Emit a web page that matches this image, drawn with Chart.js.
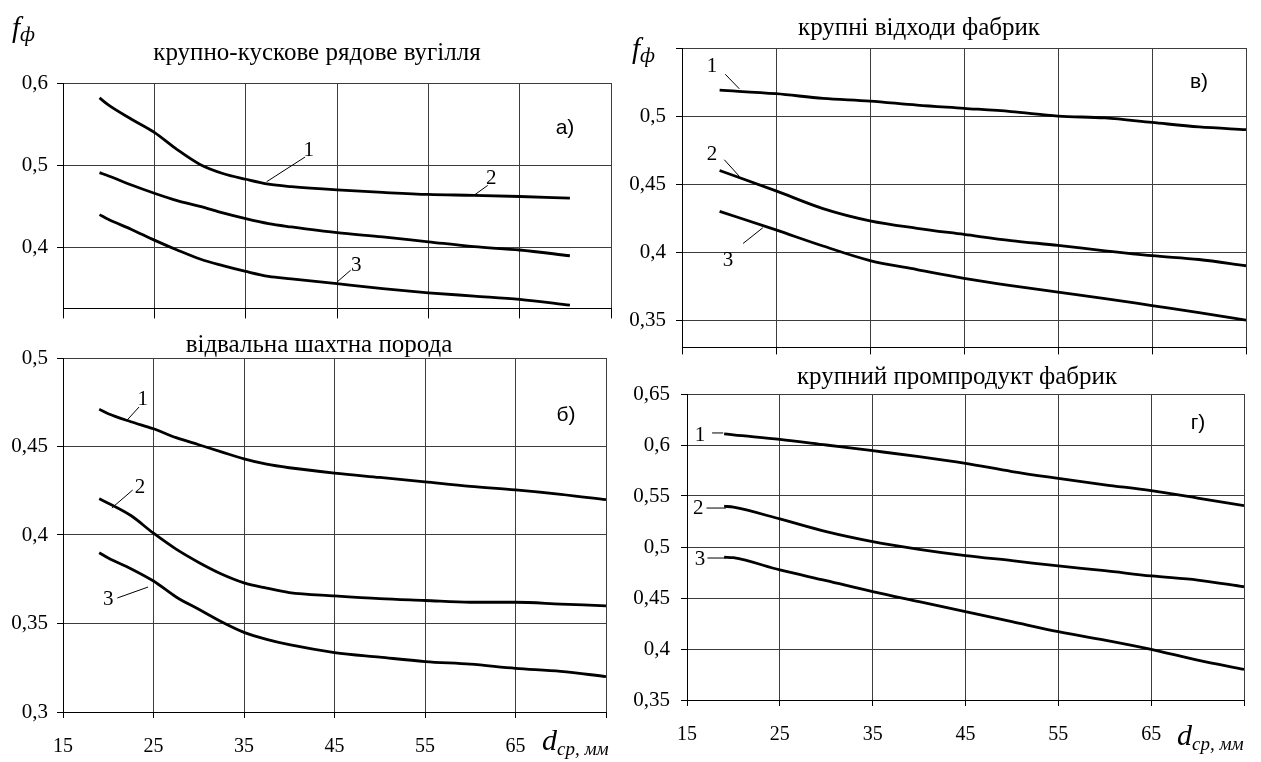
<!DOCTYPE html>
<html lang="uk">
<head>
<meta charset="utf-8">
<title>Коефіцієнт форми f_ф</title>
<script src="https://cdn.jsdelivr.net/npm/chart.js@4.4.1/dist/chart.umd.min.js"></script>
<style>
  html, body { margin: 0; padding: 0; background: #fff; }
  body { position: relative; width: 1261px; height: 762px; overflow: hidden; }
  canvas { position: absolute; }
</style>
</head>
<body>
<canvas id="panelA" style="left:0;top:0" width="630" height="330"></canvas>
<canvas id="panelB" style="left:0;top:330px" width="630" height="432"></canvas>
<canvas id="panelV" style="left:620px;top:0" width="641" height="370"></canvas>
<canvas id="panelG" style="left:620px;top:350px" width="641" height="412"></canvas>
<script>
// крупність, мм
const xTicks = [15, 25, 35, 45, 55, 65, 75];

// а) крупно-кускове рядове вугілля
const dA  = [19, 20, 22.5, 25, 27.5, 30, 32.5, 35, 37.5, 40, 45, 50, 55, 60, 65, 70.5];
const a1  = [0.582, 0.573, 0.556, 0.540, 0.519, 0.501, 0.490, 0.483, 0.477, 0.474, 0.470, 0.467, 0.4645, 0.4635, 0.462, 0.460];
const a2  = [0.491, 0.487, 0.476, 0.466, 0.457, 0.450, 0.442, 0.435, 0.429, 0.425, 0.418, 0.413, 0.407, 0.401, 0.397, 0.390];
const a3  = [0.440, 0.434, 0.422, 0.409, 0.397, 0.386, 0.378, 0.371, 0.365, 0.362, 0.356, 0.350, 0.345, 0.341, 0.337, 0.330];
const yTicksA = [0.4, 0.5, 0.6];

// б) відвальна шахтна порода
const dB  = [19, 20, 22.5, 25, 27.5, 30, 32.5, 35, 37.5, 40, 45, 50, 55, 60, 65, 70, 75];
const b1  = [0.471, 0.4685, 0.464, 0.460, 0.455, 0.451, 0.447, 0.443, 0.440, 0.438, 0.435, 0.4325, 0.430, 0.4275, 0.4255, 0.423, 0.420];
const b2  = [0.4205, 0.418, 0.411, 0.401, 0.392, 0.3845, 0.378, 0.373, 0.370, 0.3675, 0.3656, 0.364, 0.363, 0.362, 0.362, 0.361, 0.360];
const b3  = [0.390, 0.387, 0.381, 0.374, 0.365, 0.358, 0.351, 0.345, 0.341, 0.338, 0.3336, 0.331, 0.3285, 0.327, 0.3247, 0.323, 0.320];
const yTicksB = [0.3, 0.35, 0.4, 0.45, 0.5];

// в) крупні відходи фабрик
const dV  = [19, 25, 30, 35, 40, 45, 50, 55, 60, 65, 70, 75];
const v1  = [0.519, 0.5164, 0.513, 0.511, 0.508, 0.5057, 0.5033, 0.500, 0.4986, 0.4953, 0.492, 0.490];
const v2  = [0.460, 0.445, 0.432, 0.423, 0.4175, 0.413, 0.4085, 0.405, 0.401, 0.3974, 0.3946, 0.390];
const v3  = [0.430, 0.4163, 0.4045, 0.3938, 0.3872, 0.3808, 0.3754, 0.3706, 0.3659, 0.3607, 0.3555, 0.350];
const yTicksV = [0.35, 0.4, 0.45, 0.5, 0.55];

// г) крупний промпродукт фабрик
const dG  = [19, 20, 25, 30, 35, 40, 45, 50, 55, 60, 65, 70, 75];
const g1  = [0.611, 0.610, 0.6056, 0.600, 0.5944, 0.5886, 0.582, 0.574, 0.5673, 0.561, 0.5552, 0.548, 0.5405];
const g2  = [0.540, 0.539, 0.5275, 0.515, 0.5052, 0.4977, 0.4915, 0.4866, 0.4814, 0.4768, 0.4716, 0.4676, 0.461];
const g3  = [0.490, 0.4895, 0.4775, 0.467, 0.4562, 0.4464, 0.4366, 0.4268, 0.417, 0.4088, 0.3997, 0.389, 0.380];
const yTicksG = [0.35, 0.4, 0.45, 0.5, 0.55, 0.6, 0.65];

const SERIF = "'Liberation Serif', 'Times New Roman', serif";
const SANS = "'Liberation Sans', Arial, sans-serif";

// 0.45 -> "0,45", 0.5 -> "0,5"
const comma = v => String(+v.toFixed(2)).replace('.', ',');

// номери кривих з виносками (координати в одиницях осей)
function drawCurveTags(chart, tags) {
  const { ctx, scales: { x, y } } = chart;
  ctx.save();
  ctx.strokeStyle = '#000';
  ctx.lineWidth = 1;
  ctx.fillStyle = '#000';
  ctx.font = '21px ' + SERIF;
  ctx.textAlign = 'center';
  ctx.textBaseline = 'middle';
  tags.forEach(t => {
    ctx.beginPath();
    ctx.moveTo(x.getPixelForValue(t.from[0]), y.getPixelForValue(t.from[1]));
    ctx.lineTo(x.getPixelForValue(t.to[0]), y.getPixelForValue(t.to[1]));
    ctx.stroke();
    ctx.fillText(t.text, x.getPixelForValue(t.at[0]), y.getPixelForValue(t.at[1]));
  });
  ctx.restore();
}

// символ з нижнім індексом: f_ф, d_ср
function drawSymbol(ctx, main, sub, px, py, mainSize, subSize, drop) {
  ctx.save();
  ctx.fillStyle = '#000';
  ctx.textAlign = 'left';
  ctx.textBaseline = 'alphabetic';
  ctx.font = 'italic ' + mainSize + 'px ' + SERIF;
  ctx.fillText(main, px, py);
  const w = ctx.measureText(main).width;
  ctx.font = 'italic ' + subSize + 'px ' + SERIF;
  ctx.fillText(sub, px + w, py + drop);
  ctx.restore();
}

function makePanel(id, p) {
  const notes = {
    id: 'notes',
    afterDraw(chart) {
      const ctx = chart.ctx;
      ctx.save();
      ctx.fillStyle = '#000';
      ctx.textAlign = 'center';
      ctx.textBaseline = 'middle';
      ctx.font = '25px ' + SERIF;
      ctx.fillText(p.title, p.titleAt[0], p.titleAt[1]);
      ctx.font = '21px ' + SANS;
      ctx.fillText(p.letter, p.letterAt[0], p.letterAt[1]);
      ctx.restore();
      if (p.fAt) drawSymbol(ctx, 'f', 'ф', p.fAt[0], p.fAt[1], 29, 21, 4);
      if (p.dAt) drawSymbol(ctx, 'd', 'ср, мм', p.dAt[0], p.dAt[1], 30, 19, 5);
      drawCurveTags(chart, p.tags);
    }
  };

  return new Chart(document.getElementById(id), {
    type: 'line',
    data: {
      datasets: p.series.map(ys => ({
        data: p.x.map((d, i) => ({ x: d, y: ys[i] })),
        borderColor: '#000',
        borderWidth: 2.8,
        pointRadius: 0,
        fill: false,
        cubicInterpolationMode: 'monotone'
      }))
    },
    options: {
      responsive: false,
      animation: false,
      devicePixelRatio: 1,
      layout: { padding: p.pad },
      plugins: { legend: { display: false }, tooltip: { enabled: false } },
      scales: {
        x: {
          type: 'linear',
          min: 15,
          max: 75,
          afterBuildTicks: s => { s.ticks = xTicks.map(v => ({ value: v })); },
          afterFit: s => { s.height = p.xHeight; },
          border: { color: '#000', width: 1 },
          grid: { color: '#3c3c3c', lineWidth: 1, tickColor: '#000', tickLength: p.xTick },
          ticks: {
            display: p.xLabels,
            autoSkip: false,
            maxRotation: 0,
            padding: 17,
            color: '#000',
            font: { family: SERIF, size: 20 },
            callback: v => (v === 75 ? '' : String(v))
          }
        },
        y: {
          min: p.yMin,
          max: p.yMax,
          afterBuildTicks: s => { s.ticks = p.yTicks.map(v => ({ value: v })); },
          afterFit: s => { s.width = p.yWidth; },
          border: { color: '#000', width: 1 },
          grid: { color: '#3c3c3c', lineWidth: 1, tickColor: '#000', tickLength: 6 },
          ticks: {
            padding: p.yPad,
            color: '#000',
            font: { family: SERIF, size: 21 },
            callback: v => (p.hideTop && v === p.yMax ? '' : comma(v))
          }
        }
      }
    },
    plugins: [notes]
  });
}

makePanel('panelA', {
  x: dA, series: [a1, a2, a3],
  pad: { left: 0, top: 83, right: 19, bottom: 0 },
  yWidth: 63, xHeight: 18, xTick: 10, xLabels: false, yPad: 9,
  yMin: 0.326, yMax: 0.6, yTicks: yTicksA,
  title: 'крупно-кускове рядове вугілля', titleAt: [317, 53],
  letter: 'а)', letterAt: [565, 128],
  fAt: [12, 37],
  tags: [
    { text: '1', at: [41.9, 0.5174], from: [37.3, 0.480], to: [41.5, 0.510] },
    { text: '2', at: [61.9, 0.484], from: [60, 0.4635], to: [61.5, 0.4755] },
    { text: '3', at: [47.1, 0.3784], from: [45, 0.358], to: [46.5, 0.3725] }
  ]
});

makePanel('panelB', {
  x: dB, series: [b1, b2, b3],
  pad: { left: 0, top: 28, right: 24, bottom: 0 },
  yWidth: 63, xHeight: 50, xTick: 6, xLabels: true, yPad: 9,
  yMin: 0.3, yMax: 0.5, yTicks: yTicksB,
  title: 'відвальна шахтна порода', titleAt: [319, 15],
  letter: 'б)', letterAt: [566, 85],
  dAt: [542, 420],
  tags: [
    { text: '1', at: [23.8, 0.4763], from: [22.1, 0.465], to: [23.4, 0.4723] },
    { text: '2', at: [23.5, 0.4266], from: [20.4, 0.4153], to: [22.7, 0.4254] },
    { text: '3', at: [20.0, 0.3633], from: [21, 0.3644], to: [24.4, 0.3706] }
  ]
});

makePanel('panelV', {
  x: dV, series: [v1, v2, v3],
  pad: { left: 0, top: 48, right: 15, bottom: 0 },
  yWidth: 62, xHeight: 14, xTick: 7, xLabels: false, yPad: 10,
  yMin: 0.33, yMax: 0.55, yTicks: yTicksV, hideTop: true,
  title: 'крупні відходи фабрик', titleAt: [299, 28],
  letter: 'в)', letterAt: [579, 82],
  fAt: [12, 58],
  tags: [
    { text: '1', at: [18.2, 0.5364], from: [19.6, 0.5307], to: [21.1, 0.520] },
    { text: '2', at: [18.2, 0.4714], from: [19.5, 0.4679], to: [21.1, 0.4557] },
    { text: '3', at: [19.9, 0.3936], from: [21.5, 0.4064], to: [23.6, 0.4179] }
  ]
});

makePanel('panelG', {
  x: dG, series: [g1, g2, g3],
  pad: { left: 0, top: 44, right: 13, bottom: 0 },
  yWidth: 67, xHeight: 62, xTick: 6, xLabels: true, yPad: 11,
  yMin: 0.35, yMax: 0.65, yTicks: yTicksG,
  title: 'крупний промпродукт фабрик', titleAt: [337, 27],
  letter: 'г)', letterAt: [578, 73],
  dAt: [557, 395],
  tags: [
    { text: '1', at: [16.4, 0.6098], from: [17.7, 0.6118], to: [18.9, 0.6118] },
    { text: '2', at: [16.2, 0.5382], from: [17.1, 0.5382], to: [19.2, 0.5382] },
    { text: '3', at: [16.4, 0.4873], from: [17.2, 0.4892], to: [19.2, 0.4892] }
  ]
});
</script>
</body>
</html>
